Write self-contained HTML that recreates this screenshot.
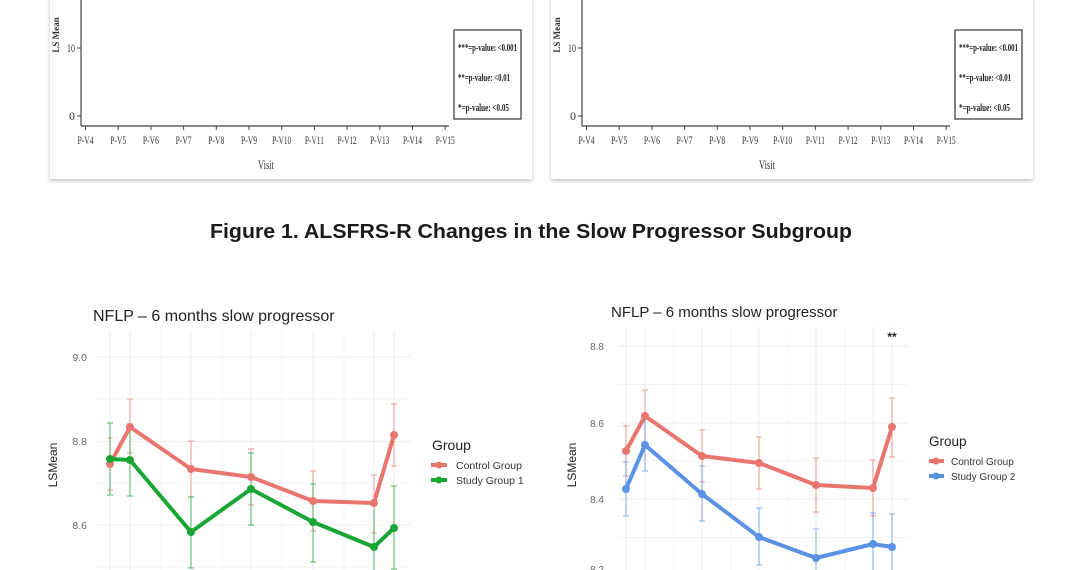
<!DOCTYPE html>
<html><head><meta charset="utf-8"><style>
html,body{margin:0;padding:0;background:#fff;}
svg{display:block;}
</style></head><body>
<svg width="1080" height="570" xmlns="http://www.w3.org/2000/svg" font-family="Liberation Sans, sans-serif">
<defs>
<filter id="sh" x="-5%" y="-5%" width="110%" height="120%"><feDropShadow dx="0" dy="2" stdDeviation="2" flood-color="#000" flood-opacity="0.25"/></filter>
<g id="top">
  <rect x="50" y="-10" width="482" height="189" fill="#fff" filter="url(#sh)"/>
  <line x1="81" y1="0" x2="81" y2="126" stroke="#444" stroke-width="1.2"/>
  <line x1="81" y1="126" x2="449" y2="126" stroke="#444" stroke-width="1.2"/>
  <line x1="77" y1="48" x2="81" y2="48" stroke="#444"/>
  <line x1="77" y1="116" x2="81" y2="116" stroke="#444"/>
  <g font-family="Liberation Serif, serif" font-size="12" fill="#333">
    <text x="75" y="52" text-anchor="end" textLength="8" lengthAdjust="spacingAndGlyphs">10</text>
    <text x="75" y="120" text-anchor="end">0</text>
    <text x="59" y="35" text-anchor="middle" transform="rotate(-90 59 35)" font-size="9" font-weight="bold">LS Mean</text>
  </g>
  <g stroke="#444">
    <line x1="85.5" y1="126" x2="85.5" y2="130"/><line x1="118.2" y1="126" x2="118.2" y2="130"/><line x1="150.9" y1="126" x2="150.9" y2="130"/><line x1="183.6" y1="126" x2="183.6" y2="130"/><line x1="216.3" y1="126" x2="216.3" y2="130"/><line x1="249" y1="126" x2="249" y2="130"/><line x1="281.7" y1="126" x2="281.7" y2="130"/><line x1="314.4" y1="126" x2="314.4" y2="130"/><line x1="347.1" y1="126" x2="347.1" y2="130"/><line x1="379.8" y1="126" x2="379.8" y2="130"/><line x1="412.5" y1="126" x2="412.5" y2="130"/><line x1="445.2" y1="126" x2="445.2" y2="130"/>
  </g>
  <g font-family="Liberation Serif, serif" font-size="12" fill="#333" text-anchor="middle">
    <text x="85.5" y="144" textLength="16" lengthAdjust="spacingAndGlyphs">P-V4</text>
    <text x="118.2" y="144" textLength="16" lengthAdjust="spacingAndGlyphs">P-V5</text>
    <text x="150.9" y="144" textLength="16" lengthAdjust="spacingAndGlyphs">P-V6</text>
    <text x="183.6" y="144" textLength="16" lengthAdjust="spacingAndGlyphs">P-V7</text>
    <text x="216.3" y="144" textLength="16" lengthAdjust="spacingAndGlyphs">P-V8</text>
    <text x="249" y="144" textLength="16" lengthAdjust="spacingAndGlyphs">P-V9</text>
    <text x="281.7" y="144" textLength="19" lengthAdjust="spacingAndGlyphs">P-V10</text>
    <text x="314.4" y="144" textLength="19" lengthAdjust="spacingAndGlyphs">P-V11</text>
    <text x="347.1" y="144" textLength="19" lengthAdjust="spacingAndGlyphs">P-V12</text>
    <text x="379.8" y="144" textLength="19" lengthAdjust="spacingAndGlyphs">P-V13</text>
    <text x="412.5" y="144" textLength="19" lengthAdjust="spacingAndGlyphs">P-V14</text>
    <text x="445.2" y="144" textLength="19" lengthAdjust="spacingAndGlyphs">P-V15</text>
    <text x="266" y="169" font-size="13" textLength="16" lengthAdjust="spacingAndGlyphs">Visit</text>
  </g>
  <rect x="454" y="30" width="67" height="89" fill="#fff" stroke="#333" stroke-width="1.2"/>
  <g font-family="Liberation Serif, serif" font-size="11" font-weight="bold" fill="#222">
    <text x="458" y="51" textLength="59" lengthAdjust="spacingAndGlyphs">***=p-value: &lt;0.001</text>
    <text x="458" y="81" textLength="52" lengthAdjust="spacingAndGlyphs">**=p-value: &lt;0.01</text>
    <text x="458" y="111" textLength="51" lengthAdjust="spacingAndGlyphs">*=p-value: &lt;0.05</text>
  </g>
</g>
</defs>
<use href="#top"/>
<use href="#top" transform="translate(501,0)"/>

<text x="531" y="238" text-anchor="middle" font-size="20" font-weight="bold" fill="#1a1a1a" textLength="642" lengthAdjust="spacingAndGlyphs">Figure 1. ALSFRS-R Changes in the Slow Progressor Subgroup</text>

<!-- bottom left -->
<g>
  <g stroke="#ececec" stroke-width="1">
    <line x1="95" y1="357" x2="411" y2="357"/><line x1="95" y1="441.5" x2="411" y2="441.5"/><line x1="95" y1="525" x2="411" y2="525"/>
    <line x1="95" y1="399" x2="411" y2="399" stroke="#f4f4f4"/><line x1="95" y1="483" x2="411" y2="483" stroke="#f4f4f4"/><line x1="95" y1="567" x2="411" y2="567" stroke="#f4f4f4"/>
    <line x1="110" y1="331" x2="110" y2="570"/><line x1="130" y1="331" x2="130" y2="570"/><line x1="161" y1="331" x2="161" y2="570" stroke="#f4f4f4"/><line x1="191" y1="331" x2="191" y2="570"/><line x1="222" y1="331" x2="222" y2="570" stroke="#f4f4f4"/><line x1="251" y1="331" x2="251" y2="570"/><line x1="282" y1="331" x2="282" y2="570" stroke="#f4f4f4"/><line x1="313" y1="331" x2="313" y2="570"/><line x1="344" y1="331" x2="344" y2="570" stroke="#f4f4f4"/><line x1="374" y1="331" x2="374" y2="570"/><line x1="394" y1="331" x2="394" y2="570"/>
  </g>
  <text x="93" y="321" font-size="16" fill="#222">NFLP – 6 months slow progressor</text>
  <g font-size="10.5" fill="#666" text-anchor="end"><text x="87" y="361">9.0</text><text x="87" y="445">8.8</text><text x="87" y="529">8.6</text></g>
  <text x="57" y="465" font-size="12" fill="#222" text-anchor="middle" transform="rotate(-90 57 465)">LSMean</text>
  <g stroke="#e8827a" stroke-width="1" opacity="0.8">
    <path d="M110 438V490M107 438h6M107 490h6 M130 399V453M127 399h6M127 453h6 M191 441V497M188 441h6M188 497h6 M251 449V505M248 449h6M248 505h6 M313 471V531M310 471h6M310 531h6 M374 475V533M371 475h6M371 533h6 M394 404V466M391 404h6M391 466h6"/>
  </g>
  <g stroke="#1aa33a" stroke-width="1" opacity="0.75">
    <path d="M110 423V495M107 423h6M107 495h6 M130 424V496M127 424h6M127 496h6 M191 497V568M188 497h6M188 568h6 M251 453V525M248 453h6M248 525h6 M313 484V562M310 484h6M310 562h6 M374 509V570 M394 486V569M391 486h6M391 569h6"/>
  </g>
  <polyline points="110,464 130,427 191,469 251,477 313,501 374,503 394,435" fill="none" stroke="#e8766e" stroke-width="4" stroke-linejoin="round"/>
  <polyline points="110,459 130,460 191,532 251,489 313,522 374,547 394,528" fill="none" stroke="#19a634" stroke-width="4" stroke-linejoin="round"/>
  <g fill="#e8766e"><circle cx="110" cy="464" r="4"/><circle cx="130" cy="427" r="4"/><circle cx="191" cy="469" r="4"/><circle cx="251" cy="477" r="4"/><circle cx="313" cy="501" r="4"/><circle cx="374" cy="503" r="4"/><circle cx="394" cy="435" r="4"/></g>
  <g fill="#19a634"><circle cx="110" cy="459" r="4"/><circle cx="130" cy="460" r="4"/><circle cx="191" cy="532" r="4"/><circle cx="251" cy="489" r="4"/><circle cx="313" cy="522" r="4"/><circle cx="374" cy="547" r="4"/><circle cx="394" cy="528" r="4"/></g>
  <text x="432" y="450" font-size="14" fill="#222">Group</text>
  <line x1="431" y1="465" x2="447" y2="465" stroke="#e8766e" stroke-width="4"/><circle cx="439" cy="465" r="3.5" fill="#e8766e"/>
  <line x1="431" y1="480" x2="447" y2="480" stroke="#19a634" stroke-width="4"/><circle cx="439" cy="480" r="3.5" fill="#19a634"/>
  <text x="456" y="469" font-size="10.5" fill="#333">Control Group</text>
  <text x="456" y="484" font-size="10.5" fill="#333">Study Group 1</text>
</g>

<!-- bottom right -->
<g>
  <g stroke="#ececec" stroke-width="1">
    <line x1="619" y1="346" x2="908" y2="346"/><line x1="619" y1="423" x2="908" y2="423"/><line x1="619" y1="499" x2="908" y2="499"/><line x1="619" y1="576" x2="908" y2="576"/>
    <line x1="619" y1="384.5" x2="908" y2="384.5" stroke="#f4f4f4"/><line x1="619" y1="461" x2="908" y2="461" stroke="#f4f4f4"/><line x1="619" y1="537.5" x2="908" y2="537.5" stroke="#f4f4f4"/>
    <line x1="626" y1="326" x2="626" y2="570"/><line x1="645" y1="326" x2="645" y2="570"/><line x1="674" y1="326" x2="674" y2="570" stroke="#f4f4f4"/><line x1="702" y1="326" x2="702" y2="570"/><line x1="731" y1="326" x2="731" y2="570" stroke="#f4f4f4"/><line x1="759" y1="326" x2="759" y2="570"/><line x1="788" y1="326" x2="788" y2="570" stroke="#f4f4f4"/><line x1="816" y1="326" x2="816" y2="570"/><line x1="845" y1="326" x2="845" y2="570" stroke="#f4f4f4"/><line x1="873" y1="326" x2="873" y2="570"/><line x1="892" y1="326" x2="892" y2="570"/>
  </g>
  <text x="611" y="317" font-size="15" fill="#222">NFLP – 6 months slow progressor</text>
  <g font-size="10" fill="#666" text-anchor="end"><text x="604" y="350">8.8</text><text x="604" y="427">8.6</text><text x="604" y="503">8.4</text><text x="604" y="573">8.2</text></g>
  <text x="576" y="465" font-size="12" fill="#222" text-anchor="middle" transform="rotate(-90 576 465)">LSMean</text>
  <g stroke="#e8827a" stroke-width="1" opacity="0.8">
    <path d="M626 426V476M623 426h6M623 476h6 M645 390V443M642 390h6M642 443h6 M702 430V482M699 430h6M699 482h6 M759 437V489M756 437h6M756 489h6 M816 458V512M813 458h6M813 512h6 M873 460V516M870 460h6M870 516h6 M892 398V457M889 398h6M889 457h6"/>
  </g>
  <g stroke="#5b92e5" stroke-width="1" opacity="0.75">
    <path d="M626 462V516M623 462h6M623 516h6 M645 418V471M642 418h6M642 471h6 M702 466V521M699 466h6M699 521h6 M759 508V565M756 508h6M756 565h6 M816 529V570M813 529h6 M873 513V570M870 513h6 M892 514V570M889 514h6"/>
  </g>
  <polyline points="626,451 645,416 702,456 759,463 816,485 873,488 892,427" fill="none" stroke="#e8766e" stroke-width="4" stroke-linejoin="round"/>
  <polyline points="626,489 645,445 702,494 759,537 816,558 873,544 892,547" fill="none" stroke="#5b92e5" stroke-width="4" stroke-linejoin="round"/>
  <g fill="#e8766e"><circle cx="626" cy="451" r="4"/><circle cx="645" cy="416" r="4"/><circle cx="702" cy="456" r="4"/><circle cx="759" cy="463" r="4"/><circle cx="816" cy="485" r="4"/><circle cx="873" cy="488" r="4"/><circle cx="892" cy="427" r="4"/></g>
  <g fill="#5b92e5"><circle cx="626" cy="489" r="4"/><circle cx="645" cy="445" r="4"/><circle cx="702" cy="494" r="4"/><circle cx="759" cy="537" r="4"/><circle cx="816" cy="558" r="4"/><circle cx="873" cy="544" r="4"/><circle cx="892" cy="547" r="4"/></g>
  <text x="892" y="341" font-size="12" font-weight="bold" fill="#222" text-anchor="middle">**</text>
  <text x="929" y="446" font-size="13.5" fill="#222">Group</text>
  <line x1="929" y1="461" x2="944" y2="461" stroke="#e8766e" stroke-width="4"/><circle cx="936" cy="461" r="3.5" fill="#e8766e"/>
  <line x1="929" y1="476" x2="944" y2="476" stroke="#5b92e5" stroke-width="4"/><circle cx="936" cy="476" r="3.5" fill="#5b92e5"/>
  <text x="951" y="465" font-size="10" fill="#333">Control Group</text>
  <text x="951" y="480" font-size="10" fill="#333">Study Group 2</text>
</g>
</svg>
</body></html>
